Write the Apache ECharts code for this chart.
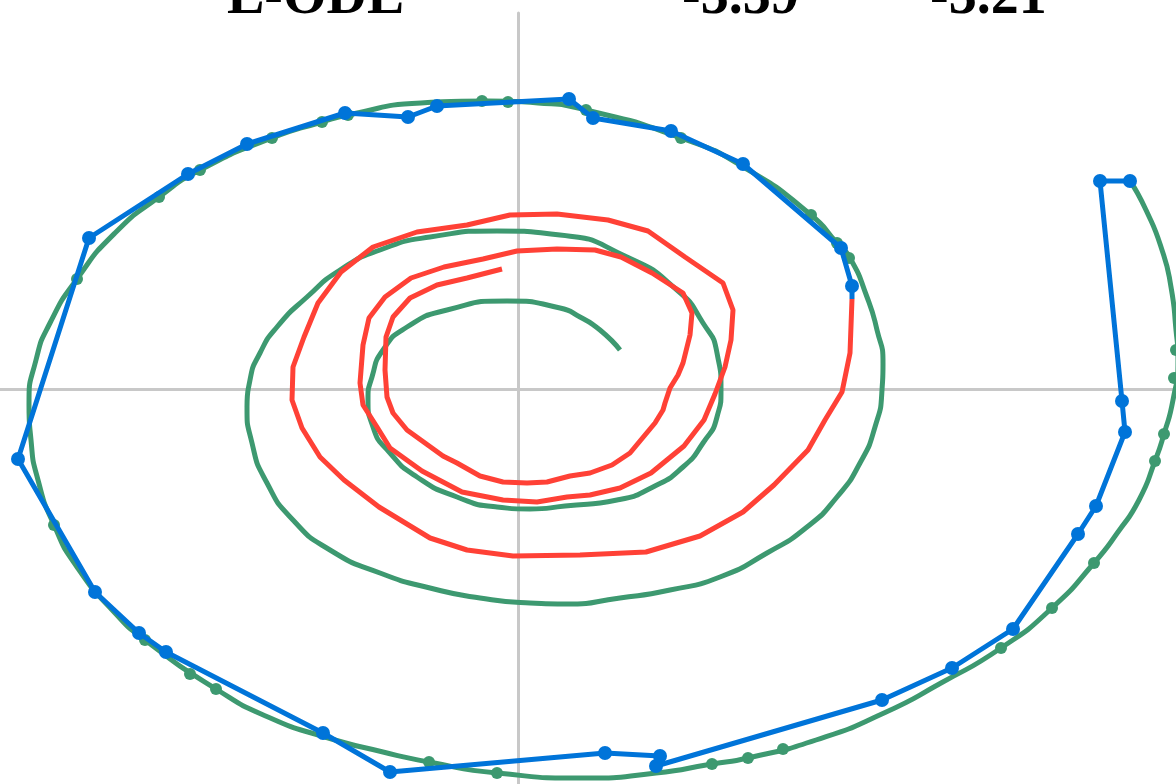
<!DOCTYPE html>
<html>
<head>
<meta charset="utf-8">
<script src="https://cdn.jsdelivr.net/npm/echarts@6/dist/echarts.min.js"></script>
<style>
  html, body { margin: 0; padding: 0; background: #ffffff; }
  #chart { width: 1176px; height: 784px; }
</style>
</head>
<body>
<div id="chart"></div>
<script>
// Header texts (cut off at top of the figure)
const headerTexts = ['L-ODE', '-3.39', '-3.21'];

// True trajectory (smooth spiral), [x, y]
const greenCurve = [
  [6.12, 2.08], [6.28, 1.79], [6.44, 1.39], [6.53, 1.02], [6.58, 0.59], [6.60, 0.29],
  [6.55, -0.11], [6.46, -0.45], [6.37, -0.72], [6.21, -1.11], [6.00, -1.43], [5.76, -1.74],
  [5.34, -2.19], [4.83, -2.59], [4.23, -2.94], [3.66, -3.24], [2.98, -3.51], [2.30, -3.69],
  [1.94, -3.75], [1.38, -3.84], [0.65, -3.89], [-0.21, -3.84], [-0.89, -3.73],
  [-1.35, -3.63], [-1.93, -3.48], [-2.50, -3.28], [-3.02, -3.00], [-3.73, -2.51], [-4.03, -2.24],
  [-4.41, -1.78], [-4.64, -1.36], [-4.80, -0.91], [-4.87, -0.51], [-4.89, -0.16], [-4.82, 0.29],
  [-4.68, 0.66], [-4.41, 1.10], [-4.03, 1.56], [-3.59, 1.92], [-3.18, 2.19], [-2.46, 2.51],
  [-1.96, 2.67], [-1.70, 2.74], [-0.97, 2.86], [-0.30, 2.88], [0.20, 2.86], [0.68, 2.79],
  [1.63, 2.51], [2.27, 2.21], [2.93, 1.74], [3.19, 1.46], [3.32, 1.31],
  [3.49, 0.92], [3.59, 0.59], [3.65, 0.26], [3.64, -0.01], [3.57, -0.38], [3.42, -0.74],
  [3.19, -1.08], [2.89, -1.38], [2.49, -1.64], [2.02, -1.88], [1.52, -2.01], [1.02, -2.09],
  [0.47, -2.15], [0.12, -2.14], [-0.38, -2.09], [-0.88, -1.99], [-1.38, -1.84], [-1.88, -1.61],
  [-2.25, -1.31], [-2.51, -0.94], [-2.66, -0.54], [-2.71, -0.18], [-2.68, 0.09], [-2.58, 0.36],
  [-2.41, 0.62], [-2.11, 0.92], [-1.78, 1.19], [-1.38, 1.39], [-0.88, 1.52], [-0.21, 1.58],
  [0.42, 1.54], [1.09, 1.32], [1.59, 0.99], [1.85, 0.66], [1.99, 0.36], [2.03, -0.01],
  [1.99, -0.28], [1.85, -0.54], [1.65, -0.78], [1.35, -0.98], [0.99, -1.11], [0.47, -1.17],
  [0.12, -1.20], [-0.21, -1.18], [-0.61, -1.08], [-1.01, -0.88], [-1.28, -0.64], [-1.45, -0.38],
  [-1.50, -0.11], [-1.46, 0.12], [-1.35, 0.39], [-1.11, 0.62], [-0.71, 0.79], [-0.11, 0.88],
  [0.42, 0.81], [0.62, 0.72], [0.82, 0.59], [1.02, 0.39]
];

// Samples of the true trajectory (green dots)
const greenDots = [
  [6.58, 0.39], [6.56, 0.11], [6.46, -0.45], [6.37, -0.72], [5.76, -1.74], [5.34, -2.19],
  [4.83, -2.59], [2.65, -3.60], [2.30, -3.69], [1.94, -3.75], [-0.21, -3.84], [-0.89, -3.73],
  [-3.02, -3.00], [-3.28, -2.85], [-3.73, -2.51], [-4.64, -1.36], [-4.41, 1.10], [-3.59, 1.92],
  [-3.18, 2.19], [-2.46, 2.51], [-1.96, 2.67], [-1.70, 2.74], [-0.36, 2.88], [-0.10, 2.87],
  [0.68, 2.79], [1.63, 2.51], [2.93, 1.74], [3.19, 1.46], [3.31, 1.31]
];

// Observations (blue)
const bluePoints = [
  [6.12, 2.08], [5.82, 2.08], [6.04, -0.12], [6.07, -0.43], [5.78, -1.17], [5.60, -1.45],
  [4.95, -2.40], [4.34, -2.79], [3.64, -3.11], [1.38, -3.77], [1.42, -3.67], [0.87, -3.64],
  [-1.28, -3.83], [-1.95, -3.44], [-3.52, -2.63], [-3.79, -2.44], [-4.23, -2.03], [-5.00, -0.70],
  [-4.29, 1.51], [-3.30, 2.15], [-2.71, 2.45], [-1.73, 2.76], [-1.10, 2.72], [-0.81, 2.83],
  [0.51, 2.90], [0.75, 2.71], [1.53, 2.58], [2.25, 2.25], [3.23, 1.41], [3.34, 1.03]
];
// First point of the extrapolation, joined to the observations
const blueJoin = [3.34, 0.90];

// Extrapolation (red)
const redPath = [
  [3.34, 0.90], [3.32, 0.36], [3.24, -0.03], [3.07, -0.31], [2.90, -0.61], [2.56, -0.96],
  [2.25, -1.23], [1.82, -1.47], [1.28, -1.63], [0.62, -1.66], [-0.05, -1.67], [-0.51, -1.61],
  [-0.88, -1.49], [-1.39, -1.18], [-1.74, -0.91], [-1.98, -0.68], [-2.16, -0.39], [-2.26, -0.11],
  [-2.25, 0.22], [-2.14, 0.52], [-2.00, 0.86], [-1.77, 1.17], [-1.45, 1.42], [-1.01, 1.57],
  [-0.51, 1.64], [-0.08, 1.74], [0.39, 1.75], [0.90, 1.69], [1.30, 1.58], [1.67, 1.32],
  [2.05, 1.06], [2.15, 0.79], [2.13, 0.49], [2.07, 0.22], [1.97, -0.05], [1.86, -0.31],
  [1.66, -0.57], [1.33, -0.84], [1.02, -0.99], [0.72, -1.06], [0.49, -1.08], [0.19, -1.13],
  [-0.15, -1.11], [-0.56, -1.03], [-0.96, -0.82], [-1.28, -0.59], [-1.41, -0.38], [-1.55, -0.16],
  [-1.58, 0.06], [-1.55, 0.44], [-1.49, 0.71], [-1.33, 0.92], [-1.07, 1.11], [-0.74, 1.22],
  [-0.35, 1.30], [-0.01, 1.38], [0.39, 1.40], [0.77, 1.39], [1.03, 1.32], [1.34, 1.16],
  [1.65, 0.96], [1.74, 0.76], [1.72, 0.54], [1.65, 0.26], [1.60, 0.14], [1.52, 0.01],
  [1.47, -0.14], [1.45, -0.21], [1.37, -0.34], [1.12, -0.64], [0.94, -0.76], [0.72, -0.84],
  [0.52, -0.87], [0.29, -0.93], [0.09, -0.94], [-0.15, -0.93], [-0.38, -0.87], [-0.61, -0.74],
  [-0.75, -0.67], [-1.11, -0.41], [-1.25, -0.24], [-1.31, -0.08], [-1.33, 0.19], [-1.32, 0.52],
  [-1.25, 0.72], [-1.08, 0.91], [-0.81, 1.04], [-0.51, 1.11], [-0.16, 1.20]
];

const BLUE = '#0074D9', GREEN = '#3D9970', RED = '#FF4136', AXIS = '#c8c8c8';

const chart = echarts.init(document.getElementById('chart'), null, { renderer: 'canvas' });

const blueData = bluePoints.map(p => p.slice());
blueData.push({ value: blueJoin, symbolSize: 0 });

const headerX = [227, 682, 930];

chart.setOption({
  animation: false,
  backgroundColor: '#ffffff',
  grid: { left: 0, right: 0, top: 13, bottom: 0, containLabel: false },
  xAxis: {
    type: 'value', min: -5.18, max: 6.58,
    axisLine: { show: true, onZero: true, lineStyle: { color: AXIS, width: 3 } },
    axisTick: { show: false }, axisLabel: { show: false }, splitLine: { show: false }
  },
  yAxis: {
    type: 'value', min: -3.95, max: 3.76,
    axisLine: { show: true, onZero: true, lineStyle: { color: AXIS, width: 3 } },
    axisTick: { show: false }, axisLabel: { show: false }, splitLine: { show: false }
  },
  graphic: headerTexts.map((t, i) => ({
    type: 'text', left: headerX[i], top: -29, silent: true,
    style: {
      text: t, fill: '#000000',
      font: 'bold 56px "Liberation Serif", "Times New Roman", serif'
    }
  })),
  series: [
    {
      type: 'line', data: greenCurve, smooth: 0.6, showSymbol: false, z: 1,
      lineStyle: { color: GREEN, width: 5 }, itemStyle: { color: GREEN }
    },
    {
      type: 'scatter', data: greenDots, symbol: 'circle', symbolSize: 12, z: 2,
      itemStyle: { color: GREEN, opacity: 1 }
    },
    {
      type: 'line', data: redPath, showSymbol: false, z: 3,
      lineStyle: { color: RED, width: 5 }, itemStyle: { color: RED }
    },
    {
      type: 'line', data: blueData, symbol: 'circle', symbolSize: 14, showSymbol: true, z: 4,
      lineStyle: { color: BLUE, width: 5 }, itemStyle: { color: BLUE }
    }
  ]
});
</script>
</body>
</html>
